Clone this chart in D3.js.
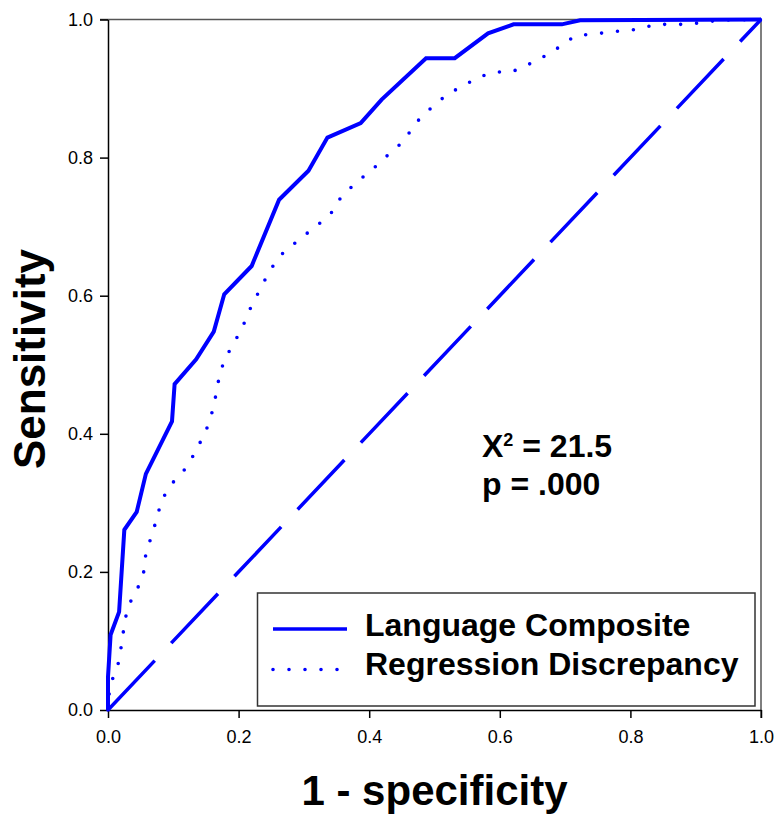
<!DOCTYPE html>
<html>
<head>
<meta charset="utf-8">
<script src="https://cdn.jsdelivr.net/npm/d3@7"></script>
<style>
  body { margin: 0; background: #fff; }
  text { font-family: "Liberation Sans", Arial, sans-serif; }
</style>
</head>
<body>
<script>
const width = 777;
const height = 817;

// ROC curve, language composite (solid)
const langFpr = [0, 0, 0.004, 0.017, 0.025, 0.044, 0.058, 0.098, 0.102, 0.135, 0.162, 0.178, 0.22, 0.262, 0.307, 0.336, 0.387, 0.419, 0.487, 0.531, 0.582, 0.621, 0.695, 0.723, 1];
const langTpr = [0, 0.048, 0.109, 0.142, 0.261, 0.287, 0.342, 0.418, 0.472, 0.508, 0.548, 0.602, 0.643, 0.739, 0.781, 0.829, 0.85, 0.884, 0.944, 0.944, 0.98, 0.993, 0.993, 0.999, 1];

// ROC curve, regression discrepancy (dotted)
const regFpr = [0, 0.002, 0.007, 0.017, 0.021, 0.025, 0.03, 0.045, 0.055, 0.058, 0.067, 0.075, 0.082, 0.099, 0.121, 0.136, 0.15, 0.159, 0.165, 0.17, 0.178, 0.194, 0.208, 0.22, 0.234, 0.248, 0.266, 0.291, 0.315, 0.34, 0.357, 0.38, 0.405, 0.429, 0.453, 0.471, 0.495, 0.52, 0.544, 0.569, 0.593, 0.618, 0.642, 0.667, 0.691, 0.715, 0.74, 0.765, 0.789, 0.814, 0.838, 0.887, 0.912, 0.936, 1];
const regTpr = [0, 0.026, 0.045, 0.071, 0.097, 0.123, 0.149, 0.175, 0.201, 0.227, 0.253, 0.278, 0.304, 0.329, 0.352, 0.378, 0.404, 0.43, 0.455, 0.481, 0.507, 0.533, 0.559, 0.586, 0.611, 0.637, 0.66, 0.68, 0.698, 0.717, 0.743, 0.764, 0.783, 0.804, 0.824, 0.85, 0.872, 0.892, 0.904, 0.917, 0.924, 0.924, 0.934, 0.946, 0.96, 0.976, 0.979, 0.981, 0.984, 0.986, 0.993, 0.993, 0.996, 0.999, 1];

// chance line
const chanceFpr = [0, 1];
const chanceTpr = [0, 1];

const ticks = [0, 0.2, 0.4, 0.6, 0.8, 1.0];
const legendLabels = ["Language Composite", "Regression Discrepancy"];

const blue = "#0000ff";

const svg = d3.select("body").append("svg")
  .attr("width", width)
  .attr("height", height);

const xScale = d3.scaleLinear().domain([0, 1]).range([108, 761]);
const yScale = d3.scaleLinear().domain([0, 1]).range([710, 19.5]);

// frame: top and right are grey
svg.append("line")
  .attr("x1", xScale(0) - 8).attr("x2", xScale(1))
  .attr("y1", yScale(1)).attr("y2", yScale(1))
  .attr("stroke", "#555").attr("stroke-width", 1.5);
svg.append("line")
  .attr("x1", xScale(1)).attr("x2", xScale(1))
  .attr("y1", yScale(1)).attr("y2", yScale(0) + 8)
  .attr("stroke", "#555").attr("stroke-width", 1.5);

const xAxis = d3.axisBottom(xScale)
  .tickValues(ticks)
  .tickFormat(d3.format(".1f"))
  .tickSize(8)
  .tickSizeOuter(0)
  .tickPadding(12);

const yAxis = d3.axisLeft(yScale)
  .tickValues(ticks)
  .tickFormat(d3.format(".1f"))
  .tickSize(8)
  .tickSizeOuter(0)
  .tickPadding(7);

const gx = svg.append("g")
  .attr("transform", "translate(0," + yScale(0) + ")")
  .call(xAxis);
const gy = svg.append("g")
  .attr("transform", "translate(" + xScale(0) + ",0)")
  .call(yAxis);

[gx, gy].forEach((g) => {
  g.selectAll("path, line").attr("stroke", "#000").attr("stroke-width", 1.5);
  g.selectAll("text")
    .attr("fill", "#000")
    .style("font-size", "18px")
    .style("font-family", "'Liberation Sans', Arial, sans-serif");
});

const line = d3.line()
  .x((d) => xScale(d[0]))
  .y((d) => yScale(d[1]));

// chance diagonal
svg.append("path")
  .datum(d3.zip(chanceFpr, chanceTpr))
  .attr("d", line)
  .attr("fill", "none")
  .attr("stroke", blue)
  .attr("stroke-width", 3.5)
  .attr("stroke-dasharray", "68,24");

// regression discrepancy
svg.append("path")
  .datum(d3.zip(regFpr, regTpr))
  .attr("d", line)
  .attr("fill", "none")
  .attr("stroke", blue)
  .attr("stroke-width", 3.6)
  .attr("stroke-linecap", "round")
  .attr("stroke-dasharray", "0,16");

// language composite
svg.append("path")
  .datum(d3.zip(langFpr, langTpr))
  .attr("d", line)
  .attr("fill", "none")
  .attr("stroke", blue)
  .attr("stroke-width", 4)
  .attr("stroke-linejoin", "miter");

// axis titles
svg.append("text")
  .attr("x", (xScale(0) + xScale(1)) / 2)
  .attr("y", 805)
  .attr("text-anchor", "middle")
  .style("font-size", "42px")
  .style("font-weight", "bold")
  .text("1 - specificity");

svg.append("text")
  .attr("transform", "translate(45,359) rotate(-90)")
  .attr("text-anchor", "middle")
  .style("font-size", "44px")
  .style("font-weight", "bold")
  .text("Sensitivity");

// statistic
const stat = svg.append("text")
  .attr("x", 482)
  .attr("y", 457)
  .style("font-size", "32px")
  .style("font-weight", "bold");
stat.append("tspan").text("X");
stat.append("tspan").attr("dy", -11).style("font-size", "18px").text("2");
stat.append("tspan").attr("dy", 11).text(" = 21.5");

svg.append("text")
  .attr("x", 482)
  .attr("y", 495)
  .style("font-size", "32px")
  .style("font-weight", "bold")
  .text("p = .000");

// legend
const legend = svg.append("g");
legend.append("rect")
  .attr("x", 257.5).attr("y", 593)
  .attr("width", 497.5).attr("height", 113)
  .attr("fill", "#fff")
  .attr("stroke", "#333")
  .attr("stroke-width", 1.5);

const legendDash = ["none", "0,16"];
const legendWidth = [3.5, 3.6];
legendLabels.forEach((label, i) => {
  const yy = 629 + i * 40.5;
  legend.append("line")
    .attr("x1", 273).attr("x2", i === 0 ? 347 : 339)
    .attr("y1", yy).attr("y2", yy)
    .attr("stroke", blue)
    .attr("stroke-width", legendWidth[i])
    .attr("stroke-linecap", i === 0 ? "butt" : "round")
    .attr("stroke-dasharray", legendDash[i]);
  legend.append("text")
    .attr("x", 365)
    .attr("y", 636 + i * 39)
    .style("font-size", "32px")
    .style("font-weight", "bold")
    .text(label);
});
</script>
</body>
</html>
